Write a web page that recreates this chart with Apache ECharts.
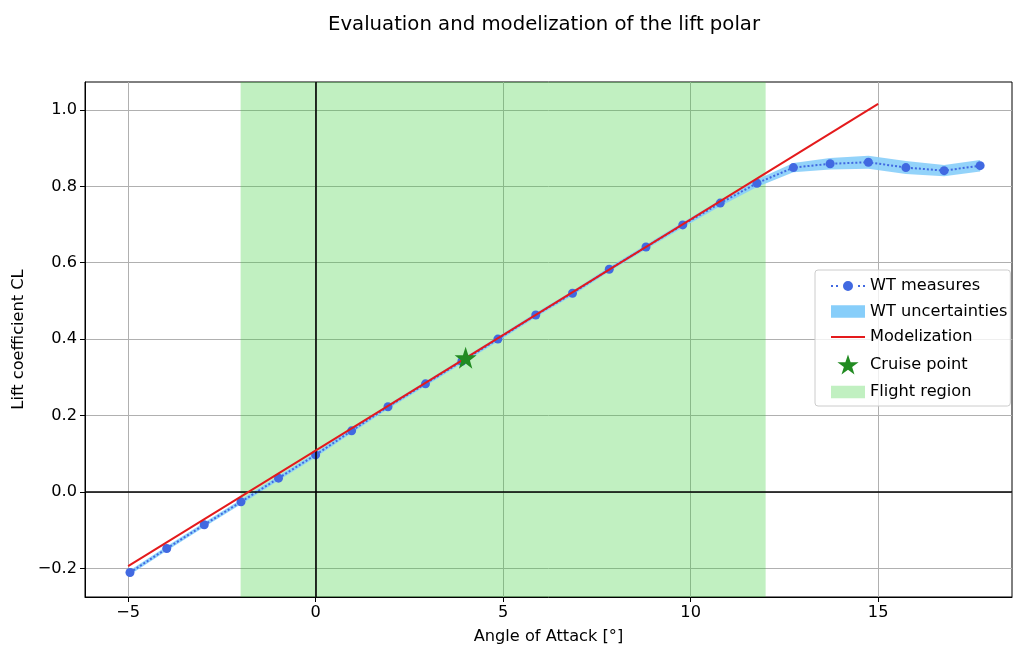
<!DOCTYPE html>
<html>
<head>
<meta charset="utf-8">
<script src="https://cdn.jsdelivr.net/npm/echarts@6/dist/echarts.min.js"></script>
<style>html,body{margin:0;padding:0;background:#fff}#c{width:1013px;height:648px}</style>
</head>
<body>
<div id="c"></div>
<script>
// ---- data ----
var alpha = [-4.95, -3.97, -2.97, -1.99, -0.99, 0.0, 0.96, 1.93, 2.93, 3.9, 4.86, 5.87, 6.85, 7.83, 8.81, 9.79, 10.79, 11.77, 12.74, 13.72, 14.74, 15.74, 16.76, 17.72];
var clMeasured = [-0.211, -0.148, -0.086, -0.026, 0.036, 0.097, 0.160, 0.223, 0.283, 0.342, 0.400, 0.463, 0.520, 0.583, 0.641, 0.699, 0.756, 0.808, 0.849, 0.859, 0.863, 0.849, 0.841, 0.854];
var clUncert = [0.006, 0.006, 0.006, 0.006, 0.006, 0.006, 0.006, 0.006, 0.006, 0.006, 0.006, 0.006, 0.006, 0.006, 0.006, 0.007, 0.008, 0.010, 0.012, 0.015, 0.017, 0.017, 0.015, 0.015];
var modelAlpha = [-5, 15];
var modelCL = [-0.194, 1.016];
var cruiseAlpha = [4.0];
var cruiseCL = [0.351];
var flightRegion = [-2, 12];
var xTicks = [-5, 0, 5, 10, 15];
var yTicks = [-0.2, 0.0, 0.2, 0.4, 0.6, 0.8, 1.0];

var xMin = -6.15, xMax = 18.57, yMin = -0.275, yMax = 1.073;
var FONT = 'DejaVu Sans';
var STAR = 'path://M50,0 L61.8,35.1 L98.1,35.1 L68.8,56.7 L79.4,90.9 L50,69.1 L20.6,90.9 L31.2,56.7 L1.9,35.1 L38.2,35.1 Z';
var ICON_MEAS = 'path://M0,5 H2 V7 H0 Z M5,5 H7 V7 H5 Z M12,6 A5,5 0 1,0 22,6 A5,5 0 1,0 12,6 Z M27,5 H29 V7 H27 Z M32,5 H34 V7 H32 Z';
var ICON_RECT = 'path://M0,0 H33 V12 H0 Z';
var ICON_LINE = 'path://M0,0 H34 V2 H0 Z';

function fmtY(v){ var s = (Math.abs(v) < 1e-9 ? 0 : v).toFixed(1); return s.replace('-', '\u2212'); }
function fmtX(v){ return String(Math.round(v)).replace('-', '\u2212'); }

var measures = alpha.map(function(a,i){ return [a, clMeasured[i]]; });
var model = modelAlpha.map(function(a,i){ return [a, modelCL[i]]; });
var cruise = cruiseAlpha.map(function(a,i){ return [a, cruiseCL[i]]; });

var chart = echarts.init(document.getElementById('c'), null, {renderer:'canvas'});
chart.setOption({
  animation: false,
  backgroundColor: '#fff',
  title: {
    text: 'Evaluation and modelization of the lift polar',
    left: 539, top: 10, textAlign: 'center',
    textStyle: {fontFamily: FONT, fontSize: 19.7, fontWeight: 'normal', color: '#000'}
  },
  grid: {left: 85, right: 1, top: 82, bottom: 51, show: true, borderColor: '#000', borderWidth: 1,
    backgroundColor: 'transparent', containLabel: false, outerBoundsMode: 'none'},
  legend: {
    left: 815, top: 270, orient: 'vertical',
    padding: [8, 3, 6, 16], itemGap: 9.5, itemWidth: 34, itemHeight: 20,
    symbolKeepAspect: true,
    backgroundColor: 'rgba(255,255,255,0.8)', borderColor: '#cccccc', borderWidth: 1, borderRadius: 3,
    textStyle: {fontFamily: FONT, fontSize: 16.2, color: '#000'},
    data: [
      {name: 'WT measures', icon: ICON_MEAS},
      {name: 'WT uncertainties', icon: ICON_RECT},
      {name: 'Modelization', icon: ICON_LINE},
      {name: 'Cruise point', icon: STAR},
      {name: 'Flight region', icon: ICON_RECT}
    ]
  },
  xAxis: {
    type: 'value', min: xMin, max: xMax,
    name: 'Angle of Attack [°]', nameLocation: 'middle', nameGap: 32,
    nameTextStyle: {fontFamily: FONT, fontSize: 16.2, color: '#000'},
    axisLine: {show: true, onZero: false, lineStyle: {color: '#000'}},
    axisTick: {show: true, length: 5, lineStyle: {color: '#000'}, customValues: xTicks},
    axisLabel: {fontFamily: FONT, fontSize: 16.2, color: '#000', margin: 8, customValues: xTicks, formatter: fmtX},
    splitLine: {show: true, lineStyle: {color: '#b0b0b0', width: 1}}
  },
  yAxis: {
    type: 'value', min: yMin, max: yMax,
    name: 'Lift coefficient CL', nameLocation: 'middle', nameGap: 56, nameRotate: 90,
    nameTextStyle: {fontFamily: FONT, fontSize: 16.2, color: '#000'},
    axisLine: {show: true, onZero: false, lineStyle: {color: '#000'}},
    axisTick: {show: true, length: 5, lineStyle: {color: '#000'}, customValues: yTicks},
    axisLabel: {fontFamily: FONT, fontSize: 16.2, color: '#000', margin: 8, customValues: yTicks, formatter: fmtY},
    splitLine: {show: true, lineStyle: {color: '#b0b0b0', width: 1}}
  },
  series: [
    {
      name: 'Flight region', type: 'custom', z: 1, clip: true,
      itemStyle: {color: 'rgba(50,205,50,0.3)'},
      data: [[flightRegion[0], flightRegion[1]]],
      renderItem: function(params, api){
        var p1 = api.coord([api.value(0), yMax]);
        var p2 = api.coord([api.value(1), yMin]);
        return {type: 'rect', shape: {x: p1[0], y: p1[1], width: p2[0]-p1[0], height: p2[1]-p1[1]},
          style: {fill: 'rgba(50,205,50,0.3)'}};
      }
    },
    {
      name: 'zero', type: 'line', z: 2, data: [], silent: true,
      markLine: {silent: true, symbol: 'none', label: {show: false},
        lineStyle: {color: '#000', width: 1.6, type: 'solid'},
        data: [{xAxis: 0}, {yAxis: 0}]}
    },
    {
      name: 'WT uncertainties', type: 'custom', z: 3, clip: true,
      itemStyle: {color: '#87CEFA'},
      data: [[0, 0]],
      renderItem: function(params, api){
        var pts = [];
        for (var i=0;i<alpha.length;i++) pts.push(api.coord([alpha[i], clMeasured[i] + clUncert[i]]));
        for (var j=alpha.length-1;j>=0;j--) pts.push(api.coord([alpha[j], clMeasured[j] - clUncert[j]]));
        return {type: 'polygon', shape: {points: pts}, style: {fill: 'rgba(135,206,250,0.9)'}};
      }
    },
    {
      name: 'WT measures', type: 'line', z: 4, data: measures,
      symbol: 'circle', symbolSize: 9, showAllSymbol: true,
      itemStyle: {color: '#4169E1'},
      lineStyle: {color: '#4169E1', width: 2, type: 'dotted'}
    },
    {
      name: 'Modelization', type: 'line', z: 5, data: model, symbol: 'none',
      itemStyle: {color: '#e41a1c'},
      lineStyle: {color: '#e41a1c', width: 2}
    },
    {
      name: 'Cruise point', type: 'scatter', z: 6, data: cruise,
      symbol: STAR, symbolSize: 22,
      itemStyle: {color: '#228B22', opacity: 1}
    }
  ]
});
</script>
</body>
</html>
